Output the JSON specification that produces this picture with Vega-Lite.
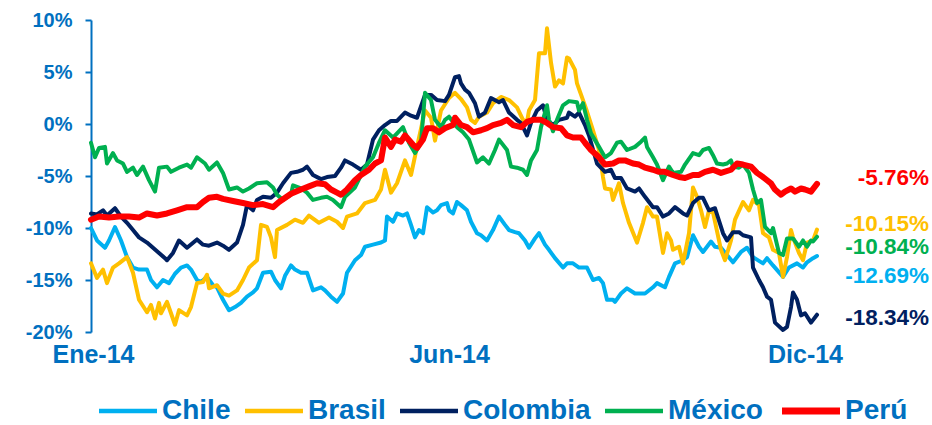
{
"$schema": "https://vega.github.io/schema/vega-lite/v6.json",
"width": 726,
"height": 312,
"autosize": {"type": "none"},
"padding": {"left": 91, "top": 20, "right": 115, "bottom": 93},
"config": {"font": "Liberation Sans", "view": {"stroke": null}},
"datasets": {
"series": [
{"pais":"Chile","dia":1,"valor":-10.0},{"pais":"Chile","dia":4,"valor":-11.2},{"pais":"Chile","dia":8,"valor":-11.9},{"pais":"Chile","dia":10,"valor":-11.2},{"pais":"Chile","dia":13,"valor":-9.9},{"pais":"Chile","dia":16,"valor":-11.2},{"pais":"Chile","dia":19,"valor":-12.8},{"pais":"Chile","dia":22,"valor":-13.8},{"pais":"Chile","dia":25,"valor":-14.0},{"pais":"Chile","dia":29,"valor":-14.0},{"pais":"Chile","dia":31,"valor":-15.0},{"pais":"Chile","dia":34,"valor":-15.7},{"pais":"Chile","dia":37,"valor":-15.0},{"pais":"Chile","dia":40,"valor":-15.3},{"pais":"Chile","dia":43,"valor":-14.4},{"pais":"Chile","dia":46,"valor":-13.8},{"pais":"Chile","dia":49,"valor":-13.6},{"pais":"Chile","dia":51,"valor":-14.0},{"pais":"Chile","dia":54,"valor":-15.0},{"pais":"Chile","dia":56,"valor":-15.2},{"pais":"Chile","dia":59,"valor":-14.7},{"pais":"Chile","dia":62,"valor":-15.5},{"pais":"Chile","dia":64,"valor":-15.7},{"pais":"Chile","dia":67,"valor":-16.9},{"pais":"Chile","dia":70,"valor":-17.9},{"pais":"Chile","dia":73,"valor":-17.6},{"pais":"Chile","dia":76,"valor":-17.2},{"pais":"Chile","dia":79,"valor":-16.6},{"pais":"Chile","dia":82,"valor":-16.2},{"pais":"Chile","dia":84,"valor":-15.8},{"pais":"Chile","dia":87,"valor":-14.3},{"pais":"Chile","dia":91,"valor":-14.2},{"pais":"Chile","dia":93,"valor":-15.0},{"pais":"Chile","dia":96,"valor":-15.8},{"pais":"Chile","dia":98,"valor":-14.6},{"pais":"Chile","dia":101,"valor":-13.6},{"pais":"Chile","dia":103,"valor":-14.0},{"pais":"Chile","dia":106,"valor":-14.3},{"pais":"Chile","dia":109,"valor":-14.3},{"pais":"Chile","dia":112,"valor":-16.0},{"pais":"Chile","dia":116,"valor":-15.7},{"pais":"Chile","dia":118,"valor":-16.0},{"pais":"Chile","dia":121,"valor":-16.6},{"pais":"Chile","dia":124,"valor":-17.1},{"pais":"Chile","dia":127,"valor":-16.3},{"pais":"Chile","dia":129,"valor":-14.3},{"pais":"Chile","dia":133,"valor":-13.1},{"pais":"Chile","dia":136,"valor":-12.6},{"pais":"Chile","dia":138,"valor":-11.8},{"pais":"Chile","dia":142,"valor":-11.6},{"pais":"Chile","dia":146,"valor":-11.4},{"pais":"Chile","dia":148,"valor":-11.2},{"pais":"Chile","dia":149,"valor":-8.9},{"pais":"Chile","dia":152,"valor":-9.4},{"pais":"Chile","dia":154,"valor":-8.6},{"pais":"Chile","dia":157,"valor":-8.8},{"pais":"Chile","dia":159,"valor":-8.6},{"pais":"Chile","dia":161,"valor":-9.7},{"pais":"Chile","dia":163,"valor":-10.9},{"pais":"Chile","dia":165,"valor":-10.2},{"pais":"Chile","dia":167,"valor":-10.5},{"pais":"Chile","dia":169,"valor":-8.0},{"pais":"Chile","dia":172,"valor":-8.5},{"pais":"Chile","dia":174,"valor":-8.3},{"pais":"Chile","dia":176,"valor":-7.8},{"pais":"Chile","dia":179,"valor":-7.6},{"pais":"Chile","dia":180,"valor":-8.3},{"pais":"Chile","dia":182,"valor":-8.6},{"pais":"Chile","dia":184,"valor":-7.5},{"pais":"Chile","dia":186,"valor":-7.8},{"pais":"Chile","dia":189,"valor":-8.3},{"pais":"Chile","dia":191,"valor":-9.4},{"pais":"Chile","dia":194,"valor":-10.5},{"pais":"Chile","dia":196,"valor":-10.7},{"pais":"Chile","dia":199,"valor":-11.2},{"pais":"Chile","dia":202,"valor":-10.2},{"pais":"Chile","dia":205,"valor":-8.9},{"pais":"Chile","dia":208,"valor":-9.7},{"pais":"Chile","dia":210,"valor":-10.2},{"pais":"Chile","dia":213,"valor":-10.4},{"pais":"Chile","dia":215,"valor":-10.5},{"pais":"Chile","dia":218,"valor":-11.2},{"pais":"Chile","dia":220,"valor":-11.9},{"pais":"Chile","dia":223,"valor":-11.0},{"pais":"Chile","dia":225,"valor":-10.5},{"pais":"Chile","dia":228,"valor":-11.6},{"pais":"Chile","dia":230,"valor":-12.1},{"pais":"Chile","dia":233,"valor":-12.9},{"pais":"Chile","dia":237,"valor":-13.8},{"pais":"Chile","dia":239,"valor":-13.4},{"pais":"Chile","dia":242,"valor":-13.4},{"pais":"Chile","dia":245,"valor":-13.8},{"pais":"Chile","dia":249,"valor":-13.8},{"pais":"Chile","dia":252,"valor":-15.0},{"pais":"Chile","dia":255,"valor":-14.8},{"pais":"Chile","dia":257,"valor":-15.3},{"pais":"Chile","dia":259,"valor":-16.9},{"pais":"Chile","dia":262,"valor":-16.9},{"pais":"Chile","dia":263,"valor":-17.1},{"pais":"Chile","dia":266,"valor":-16.3},{"pais":"Chile","dia":269,"valor":-15.8},{"pais":"Chile","dia":273,"valor":-16.3},{"pais":"Chile","dia":278,"valor":-16.3},{"pais":"Chile","dia":282,"valor":-15.7},{"pais":"Chile","dia":284,"valor":-15.3},{"pais":"Chile","dia":288,"valor":-15.7},{"pais":"Chile","dia":290,"valor":-14.7},{"pais":"Chile","dia":293,"valor":-13.4},{"pais":"Chile","dia":297,"valor":-13.1},{"pais":"Chile","dia":299,"valor":-12.8},{"pais":"Chile","dia":302,"valor":-10.7},{"pais":"Chile","dia":305,"valor":-11.8},{"pais":"Chile","dia":307,"valor":-12.3},{"pais":"Chile","dia":311,"valor":-11.3},{"pais":"Chile","dia":313,"valor":-11.8},{"pais":"Chile","dia":316,"valor":-11.9},{"pais":"Chile","dia":319,"valor":-12.6},{"pais":"Chile","dia":322,"valor":-13.3},{"pais":"Chile","dia":326,"valor":-12.3},{"pais":"Chile","dia":329,"valor":-11.9},{"pais":"Chile","dia":332,"valor":-12.8},{"pais":"Chile","dia":337,"valor":-13.4},{"pais":"Chile","dia":339,"valor":-12.9},{"pais":"Chile","dia":342,"valor":-13.6},{"pais":"Chile","dia":347,"valor":-14.7},{"pais":"Chile","dia":350,"valor":-13.8},{"pais":"Chile","dia":354,"valor":-13.4},{"pais":"Chile","dia":357,"valor":-13.8},{"pais":"Chile","dia":359,"valor":-13.3},{"pais":"Chile","dia":362,"valor":-12.9},{"pais":"Chile","dia":364,"valor":-12.69},
{"pais":"Brasil","dia":1,"valor":-13.4},{"pais":"Brasil","dia":4,"valor":-14.8},{"pais":"Brasil","dia":7,"valor":-14.0},{"pais":"Brasil","dia":9,"valor":-15.3},{"pais":"Brasil","dia":12,"valor":-13.8},{"pais":"Brasil","dia":15,"valor":-13.4},{"pais":"Brasil","dia":19,"valor":-12.8},{"pais":"Brasil","dia":22,"valor":-14.3},{"pais":"Brasil","dia":25,"valor":-16.9},{"pais":"Brasil","dia":29,"valor":-18.1},{"pais":"Brasil","dia":31,"valor":-17.4},{"pais":"Brasil","dia":33,"valor":-18.7},{"pais":"Brasil","dia":35,"valor":-17.2},{"pais":"Brasil","dia":36,"valor":-18.2},{"pais":"Brasil","dia":39,"valor":-17.1},{"pais":"Brasil","dia":41,"valor":-18.2},{"pais":"Brasil","dia":43,"valor":-19.3},{"pais":"Brasil","dia":45,"valor":-17.9},{"pais":"Brasil","dia":49,"valor":-18.4},{"pais":"Brasil","dia":51,"valor":-17.6},{"pais":"Brasil","dia":54,"valor":-15.3},{"pais":"Brasil","dia":57,"valor":-15.2},{"pais":"Brasil","dia":59,"valor":-14.5},{"pais":"Brasil","dia":60,"valor":-15.8},{"pais":"Brasil","dia":64,"valor":-15.5},{"pais":"Brasil","dia":67,"valor":-16.3},{"pais":"Brasil","dia":70,"valor":-16.5},{"pais":"Brasil","dia":74,"valor":-16.0},{"pais":"Brasil","dia":77,"valor":-15.0},{"pais":"Brasil","dia":80,"valor":-13.8},{"pais":"Brasil","dia":84,"valor":-13.1},{"pais":"Brasil","dia":86,"valor":-9.7},{"pais":"Brasil","dia":89,"valor":-9.9},{"pais":"Brasil","dia":91,"valor":-10.9},{"pais":"Brasil","dia":93,"valor":-12.8},{"pais":"Brasil","dia":94,"valor":-10.2},{"pais":"Brasil","dia":99,"valor":-9.7},{"pais":"Brasil","dia":103,"valor":-9.2},{"pais":"Brasil","dia":107,"valor":-9.5},{"pais":"Brasil","dia":110,"valor":-8.8},{"pais":"Brasil","dia":115,"valor":-9.5},{"pais":"Brasil","dia":120,"valor":-9.0},{"pais":"Brasil","dia":124,"valor":-9.4},{"pais":"Brasil","dia":127,"valor":-10.0},{"pais":"Brasil","dia":129,"valor":-8.9},{"pais":"Brasil","dia":134,"valor":-8.6},{"pais":"Brasil","dia":138,"valor":-7.6},{"pais":"Brasil","dia":143,"valor":-7.3},{"pais":"Brasil","dia":146,"valor":-6.3},{"pais":"Brasil","dia":148,"valor":-4.4},{"pais":"Brasil","dia":151,"valor":-6.6},{"pais":"Brasil","dia":154,"valor":-5.7},{"pais":"Brasil","dia":158,"valor":-3.5},{"pais":"Brasil","dia":161,"valor":-4.9},{"pais":"Brasil","dia":164,"valor":-2.2},{"pais":"Brasil","dia":168,"valor":1.3},{"pais":"Brasil","dia":171,"valor":0.6},{"pais":"Brasil","dia":173,"valor":-1.6},{"pais":"Brasil","dia":176,"valor":1.3},{"pais":"Brasil","dia":180,"valor":2.5},{"pais":"Brasil","dia":183,"valor":3.0},{"pais":"Brasil","dia":186,"valor":2.4},{"pais":"Brasil","dia":189,"valor":1.6},{"pais":"Brasil","dia":191,"valor":0.4},{"pais":"Brasil","dia":193,"valor":0.1},{"pais":"Brasil","dia":195,"valor":0.7},{"pais":"Brasil","dia":199,"valor":1.1},{"pais":"Brasil","dia":202,"valor":2.0},{"pais":"Brasil","dia":206,"valor":2.6},{"pais":"Brasil","dia":210,"valor":2.3},{"pais":"Brasil","dia":214,"valor":1.6},{"pais":"Brasil","dia":217,"valor":0.4},{"pais":"Brasil","dia":219,"valor":0.2},{"pais":"Brasil","dia":220,"valor":1.3},{"pais":"Brasil","dia":223,"valor":2.3},{"pais":"Brasil","dia":225,"valor":6.8},{"pais":"Brasil","dia":228,"valor":6.8},{"pais":"Brasil","dia":229,"valor":9.2},{"pais":"Brasil","dia":231,"valor":5.9},{"pais":"Brasil","dia":233,"valor":3.6},{"pais":"Brasil","dia":235,"valor":4.2},{"pais":"Brasil","dia":237,"valor":3.9},{"pais":"Brasil","dia":239,"valor":6.4},{"pais":"Brasil","dia":240,"valor":6.3},{"pais":"Brasil","dia":243,"valor":5.2},{"pais":"Brasil","dia":244,"valor":3.9},{"pais":"Brasil","dia":247,"valor":2.3},{"pais":"Brasil","dia":249,"valor":1.2},{"pais":"Brasil","dia":252,"valor":-0.6},{"pais":"Brasil","dia":255,"valor":-2.5},{"pais":"Brasil","dia":257,"valor":-5.1},{"pais":"Brasil","dia":258,"valor":-6.2},{"pais":"Brasil","dia":261,"valor":-6.3},{"pais":"Brasil","dia":262,"valor":-7.3},{"pais":"Brasil","dia":265,"valor":-5.7},{"pais":"Brasil","dia":267,"valor":-7.6},{"pais":"Brasil","dia":270,"valor":-9.5},{"pais":"Brasil","dia":274,"valor":-11.4},{"pais":"Brasil","dia":277,"valor":-9.5},{"pais":"Brasil","dia":279,"valor":-8.0},{"pais":"Brasil","dia":282,"valor":-8.9},{"pais":"Brasil","dia":284,"valor":-8.9},{"pais":"Brasil","dia":287,"valor":-12.4},{"pais":"Brasil","dia":289,"valor":-10.5},{"pais":"Brasil","dia":291,"valor":-11.2},{"pais":"Brasil","dia":292,"valor":-12.1},{"pais":"Brasil","dia":295,"valor":-11.8},{"pais":"Brasil","dia":297,"valor":-13.4},{"pais":"Brasil","dia":300,"valor":-10.5},{"pais":"Brasil","dia":302,"valor":-6.1},{"pais":"Brasil","dia":304,"valor":-7.0},{"pais":"Brasil","dia":306,"valor":-8.3},{"pais":"Brasil","dia":308,"valor":-9.9},{"pais":"Brasil","dia":310,"valor":-8.3},{"pais":"Brasil","dia":312,"valor":-8.5},{"pais":"Brasil","dia":316,"valor":-12.1},{"pais":"Brasil","dia":318,"valor":-13.1},{"pais":"Brasil","dia":321,"valor":-11.2},{"pais":"Brasil","dia":323,"valor":-9.2},{"pais":"Brasil","dia":327,"valor":-7.5},{"pais":"Brasil","dia":330,"valor":-8.3},{"pais":"Brasil","dia":332,"valor":-7.3},{"pais":"Brasil","dia":335,"valor":-7.8},{"pais":"Brasil","dia":337,"valor":-10.5},{"pais":"Brasil","dia":340,"valor":-10.9},{"pais":"Brasil","dia":342,"valor":-12.1},{"pais":"Brasil","dia":345,"valor":-12.4},{"pais":"Brasil","dia":347,"valor":-14.7},{"pais":"Brasil","dia":349,"valor":-12.8},{"pais":"Brasil","dia":351,"valor":-10.2},{"pais":"Brasil","dia":352,"valor":-10.9},{"pais":"Brasil","dia":355,"valor":-12.4},{"pais":"Brasil","dia":357,"valor":-13.1},{"pais":"Brasil","dia":359,"valor":-11.4},{"pais":"Brasil","dia":362,"valor":-11.2},{"pais":"Brasil","dia":364,"valor":-10.15},
{"pais":"Colombia","dia":1,"valor":-8.6},{"pais":"Colombia","dia":4,"valor":-8.7},{"pais":"Colombia","dia":7,"valor":-8.3},{"pais":"Colombia","dia":9,"valor":-8.8},{"pais":"Colombia","dia":13,"valor":-8.1},{"pais":"Colombia","dia":16,"valor":-8.9},{"pais":"Colombia","dia":19,"valor":-9.5},{"pais":"Colombia","dia":22,"valor":-10.2},{"pais":"Colombia","dia":25,"valor":-10.9},{"pais":"Colombia","dia":29,"valor":-11.4},{"pais":"Colombia","dia":32,"valor":-11.9},{"pais":"Colombia","dia":35,"valor":-12.4},{"pais":"Colombia","dia":38,"valor":-12.9},{"pais":"Colombia","dia":39,"valor":-13.1},{"pais":"Colombia","dia":42,"valor":-12.4},{"pais":"Colombia","dia":45,"valor":-11.2},{"pais":"Colombia","dia":49,"valor":-11.9},{"pais":"Colombia","dia":54,"valor":-11.1},{"pais":"Colombia","dia":57,"valor":-11.6},{"pais":"Colombia","dia":60,"valor":-11.7},{"pais":"Colombia","dia":64,"valor":-11.4},{"pais":"Colombia","dia":67,"valor":-11.7},{"pais":"Colombia","dia":70,"valor":-12.1},{"pais":"Colombia","dia":74,"valor":-11.4},{"pais":"Colombia","dia":77,"valor":-9.7},{"pais":"Colombia","dia":79,"valor":-7.8},{"pais":"Colombia","dia":82,"valor":-8.3},{"pais":"Colombia","dia":84,"valor":-7.3},{"pais":"Colombia","dia":87,"valor":-7.0},{"pais":"Colombia","dia":91,"valor":-7.1},{"pais":"Colombia","dia":94,"valor":-6.6},{"pais":"Colombia","dia":97,"valor":-5.7},{"pais":"Colombia","dia":101,"valor":-4.7},{"pais":"Colombia","dia":104,"valor":-4.6},{"pais":"Colombia","dia":107,"valor":-4.4},{"pais":"Colombia","dia":109,"valor":-4.1},{"pais":"Colombia","dia":112,"valor":-4.9},{"pais":"Colombia","dia":116,"valor":-5.3},{"pais":"Colombia","dia":119,"valor":-5.1},{"pais":"Colombia","dia":123,"valor":-5.0},{"pais":"Colombia","dia":126,"valor":-4.2},{"pais":"Colombia","dia":128,"valor":-3.5},{"pais":"Colombia","dia":132,"valor":-3.9},{"pais":"Colombia","dia":136,"valor":-4.4},{"pais":"Colombia","dia":139,"valor":-3.9},{"pais":"Colombia","dia":142,"valor":-1.5},{"pais":"Colombia","dia":145,"valor":-0.6},{"pais":"Colombia","dia":148,"valor":-0.1},{"pais":"Colombia","dia":151,"valor":0.3},{"pais":"Colombia","dia":154,"valor":0.3},{"pais":"Colombia","dia":158,"valor":1.1},{"pais":"Colombia","dia":161,"valor":0.8},{"pais":"Colombia","dia":164,"valor":0.6},{"pais":"Colombia","dia":168,"valor":2.8},{"pais":"Colombia","dia":171,"valor":2.8},{"pais":"Colombia","dia":174,"valor":2.3},{"pais":"Colombia","dia":178,"valor":2.2},{"pais":"Colombia","dia":180,"valor":2.8},{"pais":"Colombia","dia":183,"valor":4.5},{"pais":"Colombia","dia":185,"valor":4.6},{"pais":"Colombia","dia":186,"valor":3.9},{"pais":"Colombia","dia":188,"valor":3.3},{"pais":"Colombia","dia":190,"valor":3.0},{"pais":"Colombia","dia":193,"valor":2.0},{"pais":"Colombia","dia":195,"valor":0.7},{"pais":"Colombia","dia":198,"valor":1.1},{"pais":"Colombia","dia":201,"valor":2.5},{"pais":"Colombia","dia":205,"valor":2.1},{"pais":"Colombia","dia":207,"valor":2.3},{"pais":"Colombia","dia":210,"valor":1.1},{"pais":"Colombia","dia":214,"valor":0.4},{"pais":"Colombia","dia":216,"valor":0.1},{"pais":"Colombia","dia":219,"valor":-1.1},{"pais":"Colombia","dia":221,"valor":0.1},{"pais":"Colombia","dia":224,"valor":1.3},{"pais":"Colombia","dia":227,"valor":1.8},{"pais":"Colombia","dia":229,"valor":0.4},{"pais":"Colombia","dia":232,"valor":-0.1},{"pais":"Colombia","dia":235,"valor":0.4},{"pais":"Colombia","dia":239,"valor":0.6},{"pais":"Colombia","dia":240,"valor":1.1},{"pais":"Colombia","dia":243,"valor":0.7},{"pais":"Colombia","dia":245,"valor":1.1},{"pais":"Colombia","dia":248,"valor":-0.1},{"pais":"Colombia","dia":250,"valor":-1.1},{"pais":"Colombia","dia":254,"valor":-3.8},{"pais":"Colombia","dia":258,"valor":-4.6},{"pais":"Colombia","dia":261,"valor":-4.4},{"pais":"Colombia","dia":263,"valor":-5.2},{"pais":"Colombia","dia":266,"valor":-5.2},{"pais":"Colombia","dia":269,"valor":-6.2},{"pais":"Colombia","dia":273,"valor":-6.5},{"pais":"Colombia","dia":275,"valor":-6.2},{"pais":"Colombia","dia":278,"valor":-7.0},{"pais":"Colombia","dia":282,"valor":-8.0},{"pais":"Colombia","dia":284,"valor":-8.0},{"pais":"Colombia","dia":287,"valor":-8.9},{"pais":"Colombia","dia":290,"valor":-8.6},{"pais":"Colombia","dia":293,"valor":-8.0},{"pais":"Colombia","dia":297,"valor":-8.6},{"pais":"Colombia","dia":299,"valor":-8.8},{"pais":"Colombia","dia":302,"valor":-7.6},{"pais":"Colombia","dia":305,"valor":-7.1},{"pais":"Colombia","dia":307,"valor":-7.1},{"pais":"Colombia","dia":310,"valor":-8.3},{"pais":"Colombia","dia":313,"valor":-8.1},{"pais":"Colombia","dia":317,"valor":-10.5},{"pais":"Colombia","dia":319,"valor":-11.2},{"pais":"Colombia","dia":322,"valor":-10.4},{"pais":"Colombia","dia":325,"valor":-10.4},{"pais":"Colombia","dia":327,"valor":-10.7},{"pais":"Colombia","dia":331,"valor":-10.9},{"pais":"Colombia","dia":332,"valor":-13.8},{"pais":"Colombia","dia":335,"valor":-15.0},{"pais":"Colombia","dia":337,"valor":-15.7},{"pais":"Colombia","dia":339,"valor":-16.6},{"pais":"Colombia","dia":341,"valor":-16.9},{"pais":"Colombia","dia":343,"valor":-19.1},{"pais":"Colombia","dia":347,"valor":-19.8},{"pais":"Colombia","dia":349,"valor":-19.5},{"pais":"Colombia","dia":351,"valor":-17.6},{"pais":"Colombia","dia":352,"valor":-16.2},{"pais":"Colombia","dia":354,"valor":-16.9},{"pais":"Colombia","dia":356,"valor":-18.4},{"pais":"Colombia","dia":358,"valor":-18.2},{"pais":"Colombia","dia":361,"valor":-19.1},{"pais":"Colombia","dia":364,"valor":-18.34},
{"pais":"México","dia":1,"valor":-1.8},{"pais":"México","dia":3,"valor":-3.2},{"pais":"México","dia":5,"valor":-2.3},{"pais":"México","dia":8,"valor":-2.2},{"pais":"México","dia":9,"valor":-3.8},{"pais":"México","dia":12,"valor":-2.8},{"pais":"México","dia":14,"valor":-3.5},{"pais":"México","dia":17,"valor":-3.8},{"pais":"México","dia":19,"valor":-4.6},{"pais":"México","dia":22,"valor":-4.2},{"pais":"México","dia":24,"valor":-4.9},{"pais":"México","dia":27,"valor":-4.1},{"pais":"México","dia":30,"valor":-5.4},{"pais":"México","dia":33,"valor":-6.5},{"pais":"México","dia":35,"valor":-4.2},{"pais":"México","dia":39,"valor":-4.1},{"pais":"México","dia":41,"valor":-4.6},{"pais":"México","dia":45,"valor":-4.2},{"pais":"México","dia":49,"valor":-3.9},{"pais":"México","dia":51,"valor":-4.2},{"pais":"México","dia":54,"valor":-3.2},{"pais":"México","dia":58,"valor":-3.8},{"pais":"México","dia":60,"valor":-4.4},{"pais":"México","dia":64,"valor":-3.7},{"pais":"México","dia":67,"valor":-4.7},{"pais":"México","dia":70,"valor":-6.3},{"pais":"México","dia":74,"valor":-6.1},{"pais":"México","dia":77,"valor":-6.5},{"pais":"México","dia":80,"valor":-6.2},{"pais":"México","dia":84,"valor":-5.7},{"pais":"México","dia":89,"valor":-5.6},{"pais":"México","dia":92,"valor":-6.1},{"pais":"México","dia":94,"valor":-6.8},{"pais":"México","dia":97,"valor":-7.3},{"pais":"México","dia":101,"valor":-6.8},{"pais":"México","dia":102,"valor":-5.9},{"pais":"México","dia":106,"valor":-6.2},{"pais":"México","dia":109,"valor":-6.6},{"pais":"México","dia":112,"valor":-7.3},{"pais":"México","dia":116,"valor":-7.1},{"pais":"México","dia":119,"valor":-7.0},{"pais":"México","dia":122,"valor":-7.3},{"pais":"México","dia":126,"valor":-8.0},{"pais":"México","dia":128,"valor":-7.0},{"pais":"México","dia":133,"valor":-6.1},{"pais":"México","dia":138,"valor":-4.1},{"pais":"México","dia":142,"valor":-3.2},{"pais":"México","dia":145,"valor":-1.8},{"pais":"México","dia":148,"valor":-0.6},{"pais":"México","dia":152,"valor":-1.3},{"pais":"México","dia":157,"valor":-0.3},{"pais":"México","dia":160,"valor":-1.8},{"pais":"México","dia":163,"valor":-2.8},{"pais":"México","dia":166,"valor":-1.8},{"pais":"México","dia":168,"valor":3.0},{"pais":"México","dia":171,"valor":2.3},{"pais":"México","dia":173,"valor":0.4},{"pais":"México","dia":176,"valor":-0.3},{"pais":"México","dia":178,"valor":0.4},{"pais":"México","dia":180,"valor":0.7},{"pais":"México","dia":184,"valor":-0.3},{"pais":"México","dia":187,"valor":-0.8},{"pais":"México","dia":190,"valor":-1.5},{"pais":"México","dia":194,"valor":-3.7},{"pais":"México","dia":197,"valor":-3.2},{"pais":"México","dia":200,"valor":-3.8},{"pais":"México","dia":203,"valor":-2.5},{"pais":"México","dia":205,"valor":-1.5},{"pais":"México","dia":209,"valor":-2.5},{"pais":"México","dia":211,"valor":-4.1},{"pais":"México","dia":214,"valor":-4.2},{"pais":"México","dia":217,"valor":-4.4},{"pais":"México","dia":219,"valor":-4.9},{"pais":"México","dia":221,"valor":-3.5},{"pais":"México","dia":224,"valor":-2.5},{"pais":"México","dia":226,"valor":-0.3},{"pais":"México","dia":229,"valor":1.8},{"pais":"México","dia":230,"valor":0.4},{"pais":"México","dia":232,"valor":-0.7},{"pais":"México","dia":234,"valor":0.4},{"pais":"México","dia":237,"valor":1.8},{"pais":"México","dia":240,"valor":2.2},{"pais":"México","dia":244,"valor":2.1},{"pais":"México","dia":245,"valor":1.3},{"pais":"México","dia":247,"valor":2.0},{"pais":"México","dia":249,"valor":0.4},{"pais":"México","dia":251,"valor":-0.9},{"pais":"México","dia":255,"valor":-2.2},{"pais":"México","dia":258,"valor":-3.2},{"pais":"México","dia":261,"valor":-2.8},{"pais":"México","dia":264,"valor":-1.8},{"pais":"México","dia":266,"valor":-1.7},{"pais":"México","dia":269,"valor":-2.5},{"pais":"México","dia":273,"valor":-2.2},{"pais":"México","dia":276,"valor":-1.7},{"pais":"México","dia":278,"valor":-1.3},{"pais":"México","dia":279,"valor":-2.2},{"pais":"México","dia":282,"valor":-3.2},{"pais":"México","dia":284,"valor":-3.9},{"pais":"México","dia":287,"valor":-5.4},{"pais":"México","dia":290,"valor":-4.1},{"pais":"México","dia":292,"valor":-4.7},{"pais":"México","dia":296,"valor":-4.6},{"pais":"México","dia":298,"valor":-3.9},{"pais":"México","dia":302,"valor":-2.8},{"pais":"México","dia":305,"valor":-3.0},{"pais":"México","dia":307,"valor":-2.5},{"pais":"México","dia":310,"valor":-2.3},{"pais":"México","dia":312,"valor":-3.0},{"pais":"México","dia":314,"valor":-3.8},{"pais":"México","dia":317,"valor":-3.9},{"pais":"México","dia":319,"valor":-3.8},{"pais":"México","dia":321,"valor":-3.5},{"pais":"México","dia":322,"valor":-4.1},{"pais":"México","dia":325,"valor":-4.2},{"pais":"México","dia":327,"valor":-3.9},{"pais":"México","dia":330,"valor":-4.7},{"pais":"México","dia":332,"valor":-6.3},{"pais":"México","dia":334,"valor":-7.6},{"pais":"México","dia":336,"valor":-7.3},{"pais":"México","dia":338,"valor":-9.9},{"pais":"México","dia":341,"valor":-10.5},{"pais":"México","dia":342,"valor":-10.0},{"pais":"México","dia":345,"valor":-12.4},{"pais":"México","dia":347,"valor":-12.6},{"pais":"México","dia":349,"valor":-11.0},{"pais":"México","dia":352,"valor":-11.0},{"pais":"México","dia":355,"valor":-11.8},{"pais":"México","dia":357,"valor":-11.2},{"pais":"México","dia":359,"valor":-11.8},{"pais":"México","dia":361,"valor":-11.2},{"pais":"México","dia":362,"valor":-11.3},{"pais":"México","dia":364,"valor":-10.84},
{"pais":"Perú","dia":1,"valor":-9.2},{"pais":"Perú","dia":5,"valor":-8.9},{"pais":"Perú","dia":10,"valor":-9.0},{"pais":"Perú","dia":15,"valor":-8.9},{"pais":"Perú","dia":20,"valor":-8.9},{"pais":"Perú","dia":25,"valor":-9.0},{"pais":"Perú","dia":29,"valor":-8.6},{"pais":"Perú","dia":34,"valor":-8.8},{"pais":"Perú","dia":39,"valor":-8.6},{"pais":"Perú","dia":44,"valor":-8.3},{"pais":"Perú","dia":49,"valor":-8.0},{"pais":"Perú","dia":54,"valor":-8.0},{"pais":"Perú","dia":57,"valor":-7.5},{"pais":"Perú","dia":60,"valor":-7.1},{"pais":"Perú","dia":64,"valor":-7.0},{"pais":"Perú","dia":67,"valor":-7.2},{"pais":"Perú","dia":72,"valor":-7.4},{"pais":"Perú","dia":77,"valor":-7.6},{"pais":"Perú","dia":82,"valor":-7.8},{"pais":"Perú","dia":87,"valor":-7.7},{"pais":"Perú","dia":92,"valor":-8.0},{"pais":"Perú","dia":95,"valor":-7.5},{"pais":"Perú","dia":101,"valor":-6.7},{"pais":"Perú","dia":106,"valor":-6.3},{"pais":"Perú","dia":110,"valor":-6.0},{"pais":"Perú","dia":114,"valor":-5.7},{"pais":"Perú","dia":118,"valor":-5.8},{"pais":"Perú","dia":121,"valor":-6.3},{"pais":"Perú","dia":124,"valor":-6.6},{"pais":"Perú","dia":126,"valor":-6.8},{"pais":"Perú","dia":129,"valor":-6.3},{"pais":"Perú","dia":133,"valor":-5.4},{"pais":"Perú","dia":136,"valor":-4.9},{"pais":"Perú","dia":140,"valor":-4.4},{"pais":"Perú","dia":143,"valor":-3.8},{"pais":"Perú","dia":146,"valor":-3.5},{"pais":"Perú","dia":148,"valor":-1.3},{"pais":"Perú","dia":151,"valor":-2.2},{"pais":"Perú","dia":153,"valor":-1.5},{"pais":"Perú","dia":156,"valor":-1.7},{"pais":"Perú","dia":158,"valor":-1.1},{"pais":"Perú","dia":162,"valor":-2.0},{"pais":"Perú","dia":164,"valor":-2.3},{"pais":"Perú","dia":167,"valor":-1.5},{"pais":"Perú","dia":169,"valor":-0.4},{"pais":"Perú","dia":172,"valor":-0.4},{"pais":"Perú","dia":175,"valor":-0.8},{"pais":"Perú","dia":178,"valor":-0.4},{"pais":"Perú","dia":182,"valor":-0.1},{"pais":"Perú","dia":183,"valor":0.6},{"pais":"Perú","dia":186,"valor":-0.1},{"pais":"Perú","dia":189,"valor":-0.3},{"pais":"Perú","dia":192,"valor":-0.8},{"pais":"Perú","dia":196,"valor":-0.6},{"pais":"Perú","dia":199,"valor":-0.4},{"pais":"Perú","dia":202,"valor":-0.1},{"pais":"Perú","dia":206,"valor":0.1},{"pais":"Perú","dia":209,"valor":0.4},{"pais":"Perú","dia":212,"valor":-0.1},{"pais":"Perú","dia":216,"valor":-0.3},{"pais":"Perú","dia":219,"valor":0.2},{"pais":"Perú","dia":222,"valor":0.4},{"pais":"Perú","dia":226,"valor":0.4},{"pais":"Perú","dia":229,"valor":0.1},{"pais":"Perú","dia":232,"valor":-0.3},{"pais":"Perú","dia":236,"valor":-0.4},{"pais":"Perú","dia":239,"valor":-1.1},{"pais":"Perú","dia":242,"valor":-1.3},{"pais":"Perú","dia":246,"valor":-1.3},{"pais":"Perú","dia":248,"valor":-1.8},{"pais":"Perú","dia":251,"valor":-2.5},{"pais":"Perú","dia":255,"valor":-3.2},{"pais":"Perú","dia":258,"valor":-3.9},{"pais":"Perú","dia":262,"valor":-3.8},{"pais":"Perú","dia":265,"valor":-3.5},{"pais":"Perú","dia":268,"valor":-3.5},{"pais":"Perú","dia":272,"valor":-3.8},{"pais":"Perú","dia":275,"valor":-3.9},{"pais":"Perú","dia":278,"valor":-4.2},{"pais":"Perú","dia":282,"valor":-4.4},{"pais":"Perú","dia":285,"valor":-4.6},{"pais":"Perú","dia":288,"valor":-4.6},{"pais":"Perú","dia":292,"valor":-4.9},{"pais":"Perú","dia":295,"valor":-5.1},{"pais":"Perú","dia":298,"valor":-5.2},{"pais":"Perú","dia":302,"valor":-4.9},{"pais":"Perú","dia":305,"valor":-4.9},{"pais":"Perú","dia":308,"valor":-4.6},{"pais":"Perú","dia":312,"valor":-4.4},{"pais":"Perú","dia":316,"valor":-4.7},{"pais":"Perú","dia":321,"valor":-4.4},{"pais":"Perú","dia":324,"valor":-3.8},{"pais":"Perú","dia":327,"valor":-3.9},{"pais":"Perú","dia":331,"valor":-4.1},{"pais":"Perú","dia":334,"valor":-4.7},{"pais":"Perú","dia":337,"valor":-5.1},{"pais":"Perú","dia":341,"valor":-5.7},{"pais":"Perú","dia":343,"valor":-6.3},{"pais":"Perú","dia":346,"valor":-6.8},{"pais":"Perú","dia":348,"valor":-6.5},{"pais":"Perú","dia":351,"valor":-6.2},{"pais":"Perú","dia":353,"valor":-6.5},{"pais":"Perú","dia":356,"valor":-6.2},{"pais":"Perú","dia":358,"valor":-6.3},{"pais":"Perú","dia":361,"valor":-6.5},{"pais":"Perú","dia":364,"valor":-5.76}
],
"etiquetas": [
{"pais":"Perú","dia":364,"posicion":-5.2,"etiqueta":"-5.76%"},
{"pais":"Brasil","dia":364,"posicion":-9.6,"etiqueta":"-10.15%"},
{"pais":"México","dia":364,"posicion":-11.8,"etiqueta":"-10.84%"},
{"pais":"Chile","dia":364,"posicion":-14.6,"etiqueta":"-12.69%"},
{"pais":"Colombia","dia":364,"posicion":-18.7,"etiqueta":"-18.34%"}
]
},
"layer": [
{
"data": {"name": "series"},
"mark": {"type": "line", "strokeJoin": "round", "strokeCap": "round"},
"encoding": {
"x": {"field": "dia", "type": "quantitative",
"scale": {"domain": [1, 364], "nice": false, "zero": false},
"axis": {"values": [2, 180, 358], "labelExpr": "datum.value < 90 ? 'Ene-14' : (datum.value < 300 ? 'Jun-14' : 'Dic-14')", "domain": false, "ticks": false, "grid": false, "title": null, "labelFont": "Liberation Sans", "labelFontSize": 25, "labelFontWeight": "bold", "labelColor": "#0070C0", "labelPadding": 10, "labelFlush": false, "labelOverlap": false, "labelBound": false}},
"y": {"field": "valor", "type": "quantitative",
"scale": {"domain": [-20, 10], "nice": false, "zero": false},
"axis": {"values": [-20, -15, -10, -5, 0, 5, 10], "labelExpr": "datum.value + '%'", "grid": false, "title": null, "domainColor": "#0070C0", "domainWidth": 2, "tickColor": "#0070C0", "tickWidth": 2, "tickSize": 6, "labelFont": "Liberation Sans", "labelFontSize": 20, "labelFontWeight": "bold", "labelColor": "#0070C0", "labelPadding": 13}},
"color": {"field": "pais", "type": "nominal",
"scale": {"domain": ["Chile", "Brasil", "Colombia", "México", "Perú"], "range": ["#00B0F0", "#FFC000", "#002060", "#00B050", "#FF0000"]},
"legend": {"title": null, "orient": "none", "legendX": 23, "legendY": 377, "direction": "horizontal", "symbolType": "stroke", "symbolSize": 3364, "symbolStrokeWidth": 4.5, "labelFont": "Liberation Sans", "labelFontSize": 28, "labelFontWeight": "bold", "labelColor": "#0070C0", "labelOffset": 20, "columnPadding": 5,
"encode": {"symbols": {"update": {"strokeWidth": {"signal": "datum.value === 'Perú' ? 7 : 4.5"}}}}}},
"strokeWidth": {"condition": {"test": "datum.pais === 'Perú'", "value": 6}, "value": 4}
}
},
{
"data": {"name": "etiquetas"},
"mark": {"type": "text", "align": "right", "baseline": "middle", "dx": 112, "font": "Liberation Sans", "fontSize": 22.5, "fontWeight": "bold"},
"encoding": {
"x": {"field": "dia", "type": "quantitative"},
"y": {"field": "posicion", "type": "quantitative"},
"text": {"field": "etiqueta"},
"color": {"field": "pais", "type": "nominal", "legend": null}
}
}
]
}
